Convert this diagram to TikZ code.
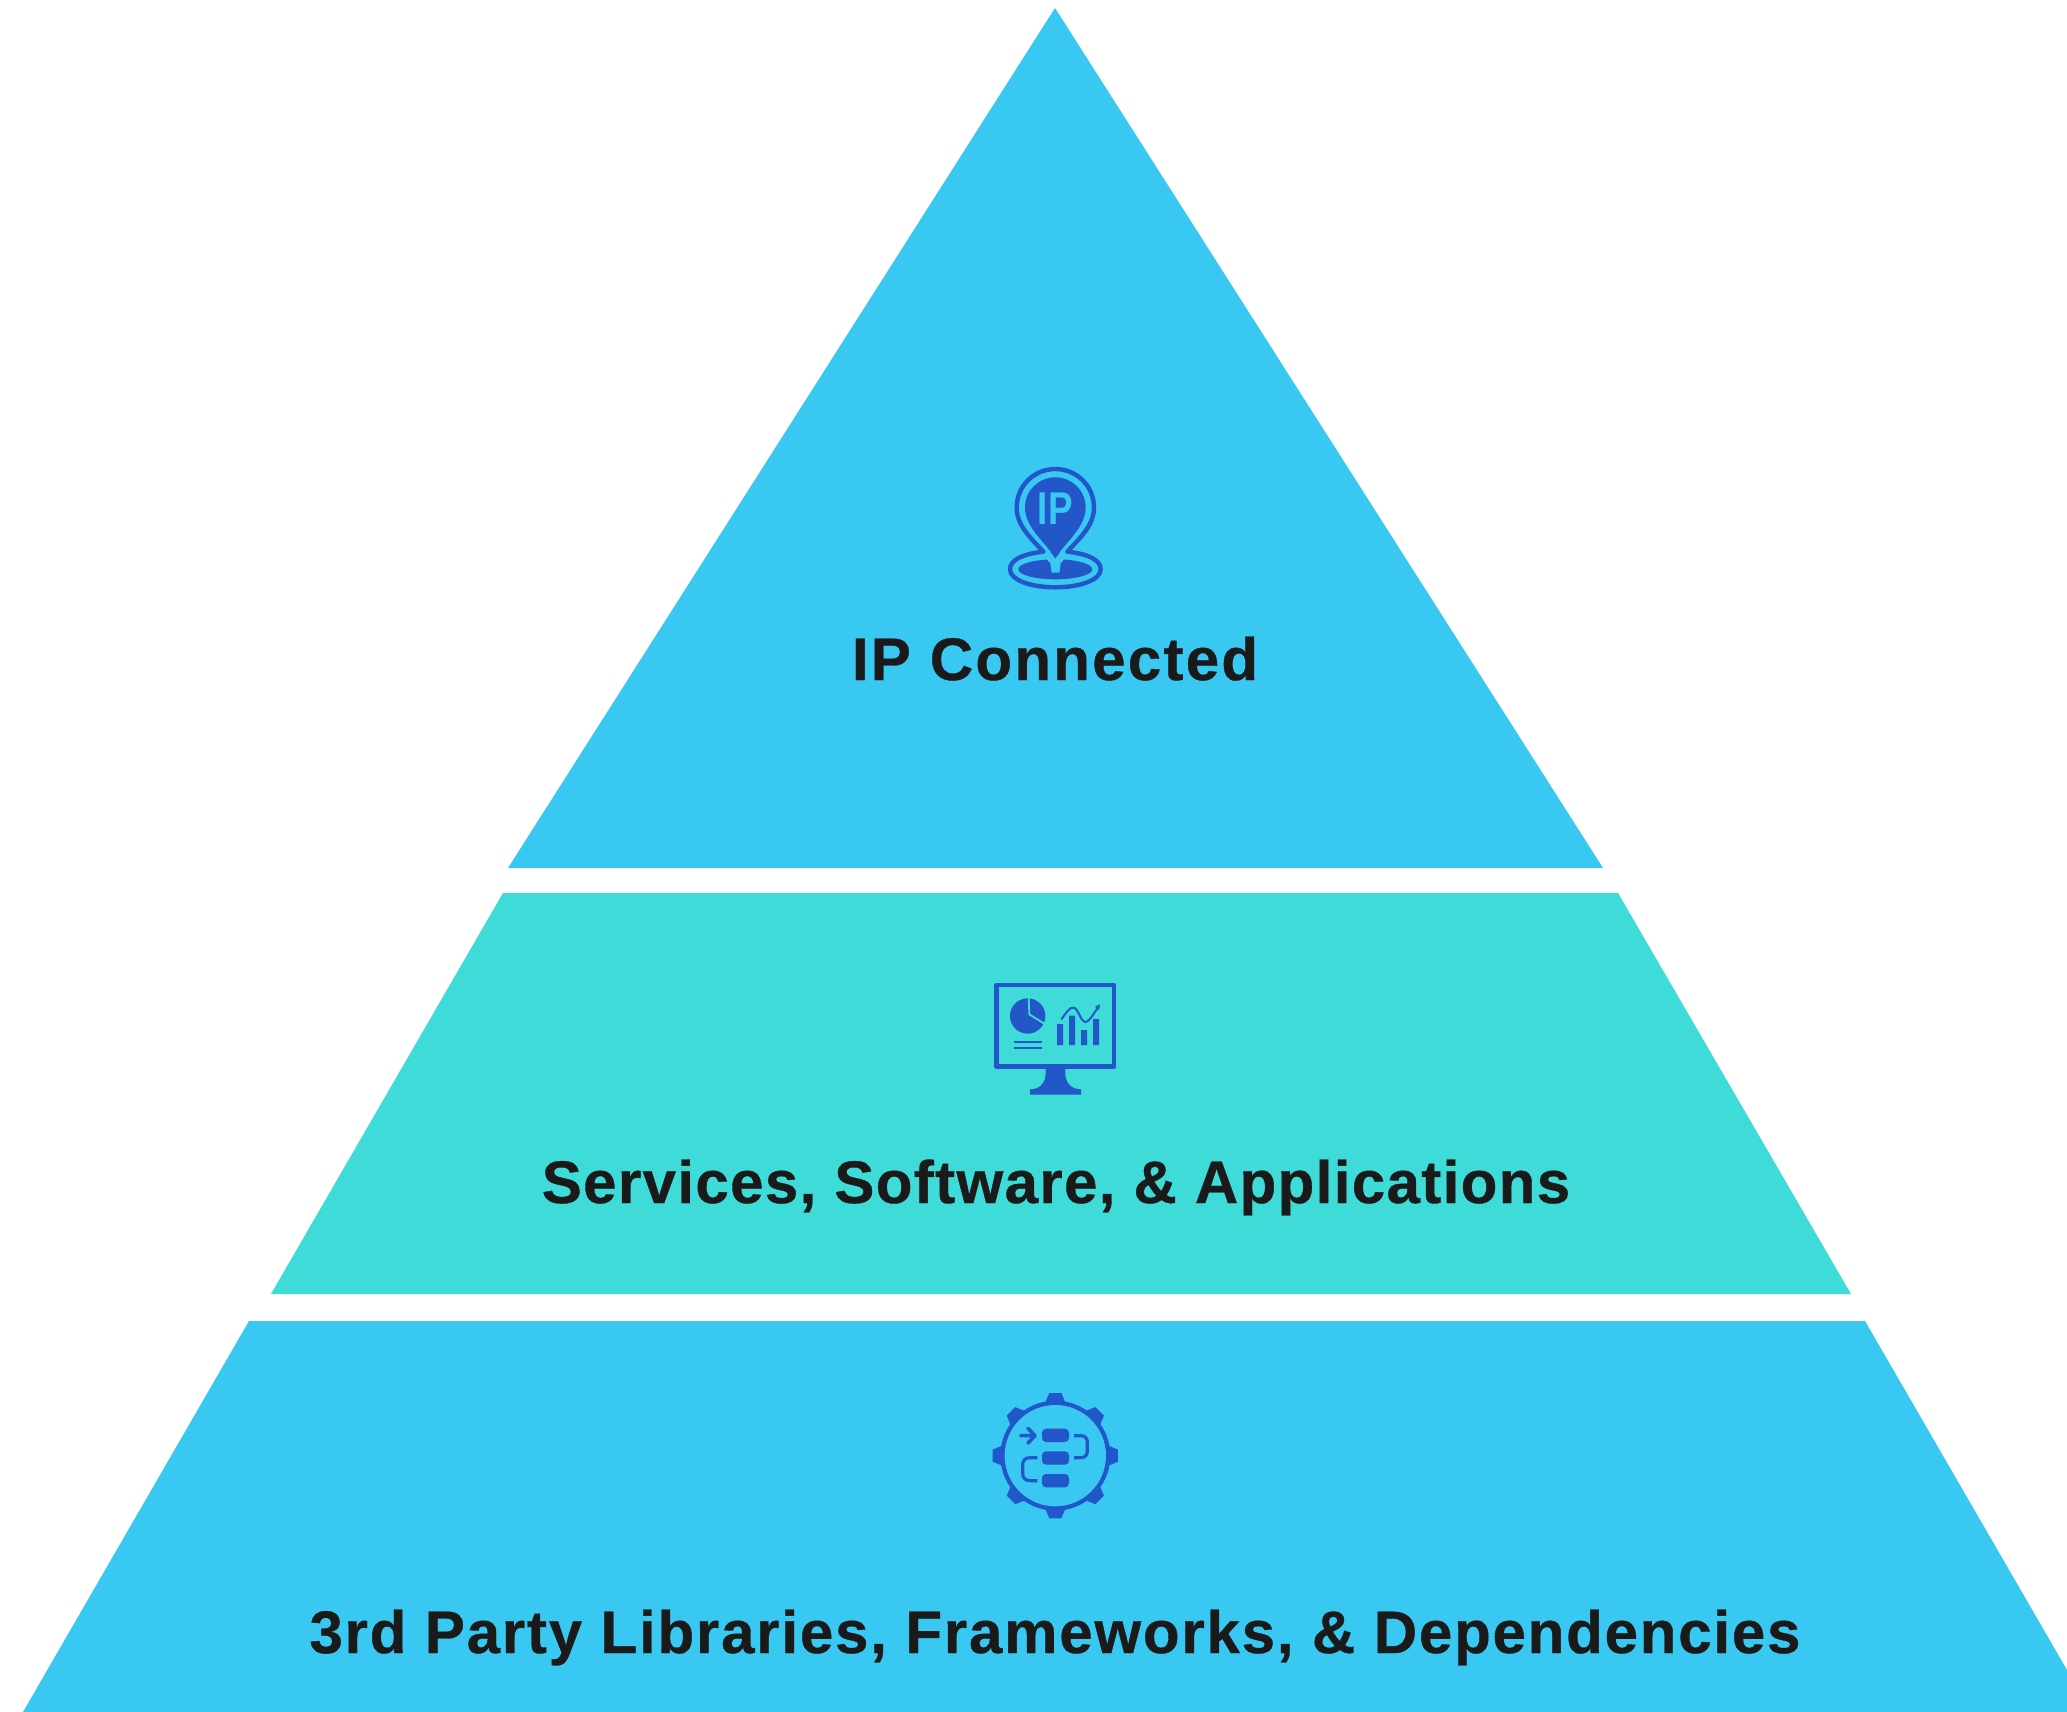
\documentclass[tikz,border=0pt]{standalone}
\usepackage{graphicx}
\usepackage{fontspec}
\setmainfont{Liberation Sans}[LetterSpace=3.0,BoldFeatures={FakeBold=0.6}]
\newfontfamily\pinfont{Liberation Sans}
\newfontfamily\swfont{Liberation Sans}[LetterSpace=2.3,BoldFeatures={FakeBold=0.6}]
\definecolor{tierblue}{HTML}{38C8F1}
\definecolor{tierteal}{HTML}{3FDBD8}
\definecolor{icondark}{HTML}{2356C8}
\definecolor{inktext}{HTML}{1A1A1A}
\tikzset{
  tierone/.style={fill=tierblue,draw=none},
  tiertwo/.style={fill=tierteal,draw=none},
  tierlabel/.style={anchor=base,inner sep=0pt,text=inktext,font=\fontsize{60}{62}\selectfont\bfseries},
  icontile/.style={fill=icondark,draw=none},
  iconline/.style={draw=icondark,line cap=round,line join=round},
}
\begin{document}
\begin{tikzpicture}[x=1pt,y=-1pt]
\useasboundingbox (0,0) rectangle (2067,1712);
% tiers
\fill[tierone] (1055,8) -- (1603,868) -- (508,868) -- cycle;
\fill[tiertwo] (503,893) -- (1618,893) -- (1851,1294) -- (271,1294) -- cycle;
\fill[tierone] (249,1321) -- (1865,1321) -- (2067,1670) -- (2067,1712) -- (23,1712) -- cycle;
% labels
\node[tierlabel] (labelip) at (1055,680) {\addfontfeature{LetterSpace=3.8}IP Connected};
\node[tierlabel,font=\swfont\fontsize{60}{62}\selectfont\bfseries] (labelsw) at (1056,1203) {Services, Software, \& Applications};
\node[tierlabel] (labellib) at (1055,1653) {3rd Party Libraries, Frameworks, \& Dependencies};
% pin icon
\begin{scope}[shift={(980,450)},x=0.3333pt,y=-0.3333pt]
  \path[iconline,line width=4.4pt]
    (190,305) .. controls (150,262) and (110,225) .. (110,173)
    .. controls (110,108) and (162,57) .. (226,57)
    .. controls (290,57) and (342,108) .. (342,173)
    .. controls (342,225) and (302,262) .. (262,305)
    .. controls (325,312) and (362,330) .. (362,358)
    .. controls (362,390) and (300,412) .. (226,412)
    .. controls (152,412) and (90,390) .. (90,358)
    .. controls (90,330) and (127,312) .. (190,305);
  \fill[icontile] (226,325) .. controls (200,280) and (135,235) .. (135,172)
    .. controls (135,122) and (176,82) .. (226,82)
    .. controls (276,82) and (317,122) .. (317,172)
    .. controls (317,235) and (252,280) .. (226,325) -- cycle;
  \fill[icontile] (226,358) ellipse [x radius=111,y radius=30];
  \fill[tierblue] (195,322) -- (257,322) -- (242,340) -- (238,368) -- (215,368) -- (211,340) -- cycle;
  \fill[icontile] (226,325) -- (211,305) -- (241,305) -- cycle;
  \node[inner sep=0pt,text=tierblue,font=\pinfont\fontsize{46}{48}\selectfont\bfseries,anchor=base] (pinip) at (226,225) {\scalebox{0.8}[1]{IP}};
\end{scope}
% monitor icon
\begin{scope}[shift={(980,970)},x=0.3333pt,y=-0.3333pt]
  \draw[draw=icondark,line width=4.4pt,line join=round] (50,45) rectangle (402,290);
  \fill[icontile] (197,294) -- (256,294) -- (256,310) .. controls (256,340) and (275,358) .. (303,358)
    -- (303,374) -- (150,374) -- (150,358) .. controls (178,358) and (197,340) .. (197,310) -- cycle;
  \fill[icontile] (143,138) circle [radius=53];
  \draw[tierteal,line width=1.8pt] (146,80) -- (148,133) -- (196,163);
  \draw[draw=icondark,line width=1.8pt] (103,215) -- (186,215) (103,234) -- (186,234);
  \fill[icontile] (231,162) rectangle (249,225) (267,137) rectangle (285,225)
    (303,180) rectangle (321,225) (339,147) rectangle (357,225);
  \draw[iconline,line width=2pt] (245,147) .. controls (258,128) and (270,110) .. (282,113)
    .. controls (296,118) and (303,157) .. (317,156) .. controls (328,155) and (345,125) .. (356,110);
  \fill[icontile] (360,103) -- (345,110) -- (357,120) -- cycle;
\end{scope}
% gear icon
\begin{scope}[shift={(980,1385)},x=0.3333pt,y=-0.3333pt]
  \fill[icontile] (226,212) circle [radius=165];
  \foreach \a in {0,45,...,315}{
    \fill[icontile,shift={(226,212)},rotate=\a] (-34,-150) -- (-18,-188) -- (18,-188) -- (34,-150) -- cycle;
  }
  \fill[tierblue] (226,212) circle [radius=152];
  \fill[icontile,rounded corners=4pt] (186,131) rectangle (267,171) (186,199) rectangle (267,239) (186,267) rectangle (267,307);
  \draw[iconline,line width=3.6pt] (122,152) -- (163,152) (144,130) -- (165,152) -- (144,174);
  \draw[draw=icondark,line width=3.2pt] (282,152) -- (303,152) .. controls (315,152) and (322,160) .. (322,172)
    -- (322,198) .. controls (322,210) and (315,218) .. (303,218) -- (282,218);
  \draw[draw=icondark,line width=3.2pt] (172,218) -- (150,218) .. controls (137,218) and (128,226) .. (128,238)
    -- (128,267) .. controls (128,279) and (137,287) .. (150,287) -- (172,287);
\end{scope}
\end{tikzpicture}
\end{document}
